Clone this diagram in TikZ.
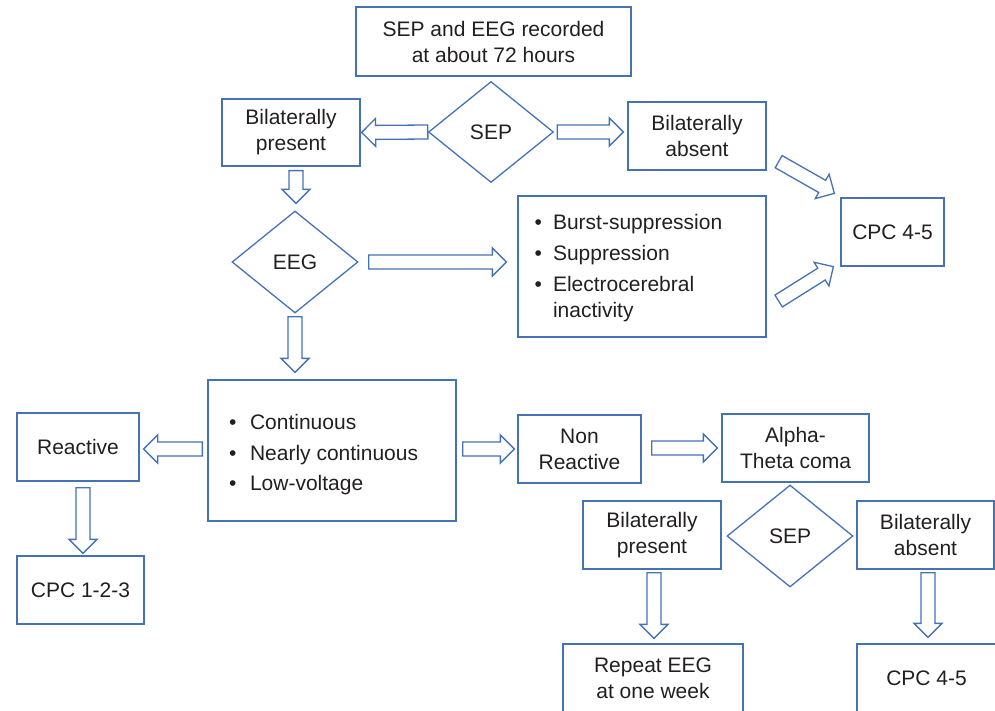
\documentclass[tikz,border=0pt]{standalone}
\usepackage{fontspec}
\setmainfont{Liberation Sans}
\usepackage{tikz}
\usetikzlibrary{shapes.geometric, calc}
\definecolor{flowblue}{RGB}{68,114,180}
\definecolor{flowtext}{RGB}{35,31,32}
\tikzset{
  flow_box/.style={rectangle, draw=flowblue, line width=1.3pt, inner sep=0pt, align=center, text=flowtext, font=\fontsize{21}{26}\selectfont},
  decision/.style={diamond, draw=flowblue, line width=1.3pt, inner sep=0pt, text=flowtext, font=\fontsize{21}{26}\selectfont},
  list_text/.style={anchor=base west, inner sep=0pt, text=flowtext, font=\fontsize{21}{26}\selectfont},
  block_arrow/.style={draw=flowblue, line width=1.3pt, line join=miter, fill=white}
}
\newcommand{\hollowarrow}[2]{%
  \coordinate (ha_s) at (#1);
  \coordinate (ha_e) at (#2);
  \coordinate (ha_h) at ($(ha_e)!14pt!(ha_s)$);
  \draw[block_arrow] ($(ha_s)!7pt!90:(ha_e)$) -- ($(ha_h)!7pt!90:(ha_e)$) -- ($(ha_h)!14pt!90:(ha_e)$) -- (ha_e)
    -- ($(ha_h)!14pt!-90:(ha_e)$) -- ($(ha_h)!7pt!-90:(ha_e)$) -- ($(ha_s)!7pt!-90:(ha_e)$) -- cycle;
}

\begin{document}
\begin{tikzpicture}[x=1pt, y=-1pt]

  \useasboundingbox (0,0) rectangle (995,711);
  \clip (0,0) rectangle (995,711);

  % Upper part
  \node[flow_box, minimum width=275, minimum height=69] (top_box) at (493.5,41.5) {SEP and EEG recorded\\at about 72 hours};
  \node[decision, minimum width=125, minimum height=101] (sep_top) at (491,132) {SEP};
  \node[flow_box, minimum width=138, minimum height=67] (bil_present_top) at (291,132.5) {Bilaterally\\present};
  \node[flow_box, minimum width=138, minimum height=68] (bil_absent_top) at (697,136) {Bilaterally\\absent};
  \node[decision, minimum width=126, minimum height=102] (eeg) at (295,262) {EEG};
  \node[flow_box, minimum width=248, minimum height=141] (burst_box) at (642,266.5) {};
  \node[list_text] (burst_list) at (534.5,229.5) {\begin{tabular}[t]{@{}l@{\hspace{11pt}}l@{}}
    \textbullet & Burst-suppression\\[5pt]
    \textbullet & Suppression\\[5pt]
    \textbullet & Electrocerebral\\
                & inactivity
  \end{tabular}};
  \node[flow_box, minimum width=103, minimum height=68] (cpc_top) at (892.5,232) {CPC 4-5};

  % Lower part
  \node[flow_box, minimum width=248, minimum height=141] (continuous_box) at (332,450.5) {};
  \node[list_text] (continuous_list) at (229,429.5) {\begin{tabular}[t]{@{}l@{\hspace{13.5pt}}l@{}}
    \textbullet & Continuous\\[4.5pt]
    \textbullet & Nearly continuous\\[4.5pt]
    \textbullet & Low-voltage
  \end{tabular}};
  \node[flow_box, minimum width=122, minimum height=68] (reactive_box) at (78,447) {Reactive};
  \node[flow_box, minimum width=127, minimum height=68] (cpc123_box) at (80.5,590) {CPC 1-2-3};
  \node[flow_box, minimum width=123, minimum height=68] (non_reactive_box) at (579.5,449) {Non\\Reactive};
  \node[flow_box, minimum width=147, minimum height=68] (alpha_box) at (795.5,448) {Alpha-\\Theta coma};
  \node[decision, minimum width=126, minimum height=102] (sep_bot) at (790,536) {SEP};
  \node[flow_box, minimum width=138, minimum height=68] (bil_present_bot) at (652,535) {Bilaterally\\present};
  \node[flow_box, minimum width=137, minimum height=68] (bil_absent_bot) at (925.5,535) {Bilaterally\\absent};
  \node[flow_box, minimum width=180, minimum height=68] (repeat_box) at (653,678) {Repeat EEG\\at one week};
  \node[flow_box, minimum width=139, minimum height=68] (cpc_bot) at (926.5,678) {CPC 4-5};

  % Arrows
  \hollowarrow{sep_top.west}{$(bil_present_top.east)+(1,0)$}
  \hollowarrow{$(sep_top.east)+(3,0)$}{$(sep_top.east -| bil_absent_top.west)+(-4,0)$}
  \hollowarrow{$(eeg.north |- bil_present_top.south)+(1,4)$}{$(eeg.north)+(1,-7)$}
  \hollowarrow{$(eeg.east)+(10,0)$}{$(eeg.east -| burst_box.west)+(-11,0)$}
  \hollowarrow{$(eeg.south)+(0,3)$}{$(eeg.south |- continuous_box.north)+(0,-7)$}
  \hollowarrow{$(bil_absent_top.south east)+(12,-9)$}{$(cpc_top.north west)+(-6,-4)$}
  \hollowarrow{$(burst_box.east)+(12,34.5)$}{$(cpc_top.south west)+(-7,0)$}
  \hollowarrow{$(continuous_box.west)+(-5,-1.5)$}{$(reactive_box.east)+(4,2)$}
  \hollowarrow{$(reactive_box.south)+(5,6)$}{$(cpc123_box.north)+(2.5,-2)$}
  \hollowarrow{$(continuous_box.east)+(6,-1.5)$}{$(non_reactive_box.west)+(-3,0)$}
  \hollowarrow{$(non_reactive_box.east)+(10,-1)$}{$(alpha_box.west)+(-4,0)$}
  \hollowarrow{$(bil_present_bot.south)+(2,3)$}{$(repeat_box.north)+(1,-5)$}
  \hollowarrow{$(bil_absent_bot.south)+(2.5,3)$}{$(cpc_bot.north)+(1.5,-6)$}

\end{tikzpicture}
\end{document}
